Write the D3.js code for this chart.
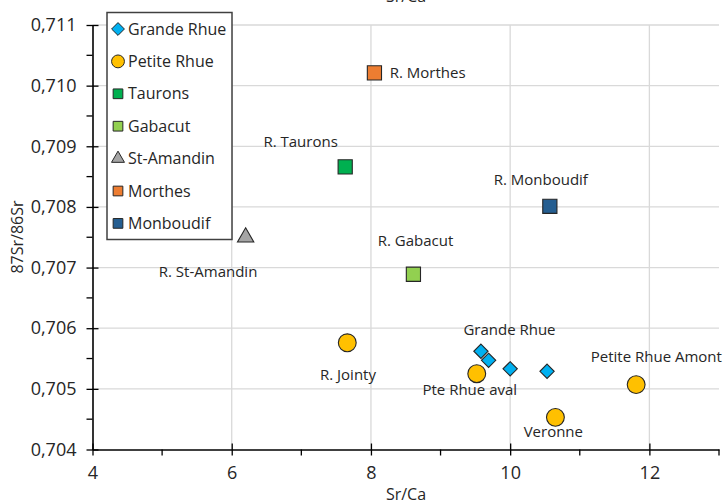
<!DOCTYPE html>
<html>
<head>
<meta charset="utf-8">
<script src="https://cdn.jsdelivr.net/npm/d3@7"></script>
<style>
body{margin:0;background:#fff;}
svg text{font-family:"Open Sans",sans-serif;fill:#262626;}
</style>
</head>
<body>
<svg id="chart" width="728" height="502"></svg>
<script>
// series (Sr/Ca, 87Sr/86Sr)
var grandeRhue = [[9.58, 0.70562], [9.69, 0.70547], [10.0, 0.70533], [10.53, 0.70529]]
var petiteRhue = [[7.66, 0.70576], [9.52, 0.70525], [11.81, 0.70507], [10.65, 0.70453]]
var taurons = [[7.63, 0.70866]]
var gabacut = [[8.61, 0.70689]]
var stAmandin = [[6.20, 0.70750]]
var morthes = [[8.05, 0.71021]]
var monboudif = [[10.57, 0.70801]]

var seriesNames = ['Grande Rhue', 'Petite Rhue', 'Taurons', 'Gabacut', 'St-Amandin', 'Morthes', 'Monboudif']
var seriesColors = ['#00B0F0', '#FFC000', '#00B050', '#92D050', '#A5A5A5', '#ED7D31', '#255E91']
var seriesShapes = ['diamond', 'circle', 'square', 'square', 'triangle', 'square', 'square']

// point labels, anchored in data units
var labelText = ['R. Morthes', 'R. Taurons', 'R. Monboudif', 'R. Gabacut', 'R. St-Amandin', 'R. Jointy',
	'Grande Rhue', 'Petite Rhue Amont', 'Pte Rhue aval', 'Veronne']
var labelX = [8.27, 6.99, 10.44, 8.64, 5.66, 7.67, 9.99, 12.10, 9.42, 10.62]
var labelY = [0.71021, 0.70907, 0.70844, 0.70744, 0.70693, 0.70523, 0.70597, 0.70553, 0.70498, 0.70429]
var labelAnchor = ['start', 'middle', 'middle', 'middle', 'middle', 'middle', 'middle', 'middle', 'middle', 'middle']

var xTicks = [4, 6, 8, 10, 12]
var xMinor = [5, 7, 9, 11, 13]
var yTicks = [0.704, 0.705, 0.706, 0.707, 0.708, 0.709, 0.710, 0.711]
var yMinor = [0.7045, 0.7055, 0.7065, 0.7075, 0.7085, 0.7095, 0.7105]

var svg = d3.select('svg#chart')
var x = d3.scaleLinear().domain([4, 13]).range([92.5, 719])
var y = d3.scaleLinear().domain([0.704, 0.711]).range([449.5, 25])
var fmt = function(d){return d3.format('.3f')(d).replace('.', ',')}

// grid
svg.append('g').selectAll('line.h')
	.data(yTicks.slice(1))
	.enter().append('line')
	.attr('x1', x(4)).attr('x2', x(13))
	.attr('y1', function(d){return y(d)}).attr('y2', function(d){return y(d)})
	.style('stroke', '#D9D9D9').style('stroke-width', 1.3)
svg.append('g').selectAll('line.v')
	.data(xTicks.slice(1))
	.enter().append('line')
	.attr('x1', function(d){return x(d)}).attr('x2', function(d){return x(d)})
	.attr('y1', y(0.711)).attr('y2', y(0.704))
	.style('stroke', '#D9D9D9').style('stroke-width', 1.3)

// axes
var xAxis = svg.append('g').attr('transform', 'translate(0,' + y(0.704) + ')')
xAxis.call(d3.axisBottom(x).tickValues(xTicks).tickSize(6).tickSizeOuter(0).tickPadding(11))
xAxis.selectAll('.tick line').attr('y1', -6)
xAxis.append('g').selectAll('line')
	.data(xMinor).enter().append('line')
	.attr('x1', function(d){return x(d)}).attr('x2', function(d){return x(d)})
	.attr('y1', 0).attr('y2', 6).style('stroke', '#000').style('stroke-width', 1.3)
var yAxis = svg.append('g').attr('transform', 'translate(' + x(4) + ',0)')
yAxis.call(d3.axisLeft(y).tickValues(yTicks).tickFormat(fmt).tickSize(6).tickSizeOuter(0).tickPadding(10))
yAxis.selectAll('.tick line').attr('x1', 6)
yAxis.append('g').selectAll('line')
	.data(yMinor).enter().append('line')
	.attr('x1', -6).attr('x2', 0)
	.attr('y1', function(d){return y(d)}).attr('y2', function(d){return y(d)})
	.style('stroke', '#000').style('stroke-width', 1.3)
svg.selectAll('.domain').style('stroke', '#000').style('stroke-width', 1.6)
svg.selectAll('.tick line').style('stroke', '#000').style('stroke-width', 1.3)
svg.selectAll('.tick text').style('font-size', '18px').style('font-family', '"Open Sans",sans-serif').attr('fill', '#262626')

// axis titles
svg.append('text').attr('x', 406).attr('y', 500).attr('text-anchor', 'middle').style('font-size', '16px').text('Sr/Ca')
svg.append('text').attr('x', 406).attr('y', 2).attr('text-anchor', 'middle').style('font-size', '16px').text('Sr/Ca')
svg.append('text').attr('transform', 'translate(23,237) rotate(-90)').attr('text-anchor', 'middle').style('font-size', '16px').text('87Sr/86Sr')

function symbolFor(shape, size){
	var t = {diamond: d3.symbolDiamond2, circle: d3.symbolCircle, square: d3.symbolSquare2, triangle: d3.symbolTriangle2}[shape]
	return d3.symbol().type(t).size(size)()
}
var markSize = {diamond: 130, circle: 250, square: 256, triangle: 190}
var legendSize = {diamond: 105, circle: 130, square: 120, triangle: 120}

var allSeries = [grandeRhue, petiteRhue, taurons, gabacut, stAmandin, morthes, monboudif]
allSeries.forEach(function(pts, i){
	svg.append('g').selectAll('path')
		.data(pts).enter().append('path')
		.attr('d', symbolFor(seriesShapes[i], markSize[seriesShapes[i]]))
		.attr('transform', function(d){return 'translate(' + x(d[0]) + ',' + y(d[1]) + ')'})
		.style('fill', seriesColors[i])
		.style('stroke', '#262626').style('stroke-width', 1.1)
})

// point labels
svg.append('g').selectAll('text')
	.data(labelText).enter().append('text')
	.attr('x', function(d, i){return x(labelX[i])})
	.attr('y', function(d, i){return y(labelY[i])})
	.attr('dy', '0.35em')
	.attr('text-anchor', function(d, i){return labelAnchor[i]})
	.style('font-size', '15px')
	.text(function(d){return d})

// legend
var lg = svg.append('g')
lg.append('rect').attr('x', 107).attr('y', 12.5).attr('width', 125).attr('height', 227)
	.style('fill', '#fff').style('stroke', '#404040').style('stroke-width', 1.5)
var item = lg.selectAll('g.item').data(seriesNames).enter().append('g')
	.attr('transform', function(d, i){return 'translate(118,' + (29 + i * 32.4) + ')'})
item.append('path')
	.attr('d', function(d, i){return symbolFor(seriesShapes[i], legendSize[seriesShapes[i]])})
	.style('fill', function(d, i){return seriesColors[i]})
	.style('stroke', '#262626').style('stroke-width', 1)
item.append('text').attr('x', 10).attr('dy', '0.35em').style('font-size', '16px').text(function(d){return d})
</script>
</body>
</html>
